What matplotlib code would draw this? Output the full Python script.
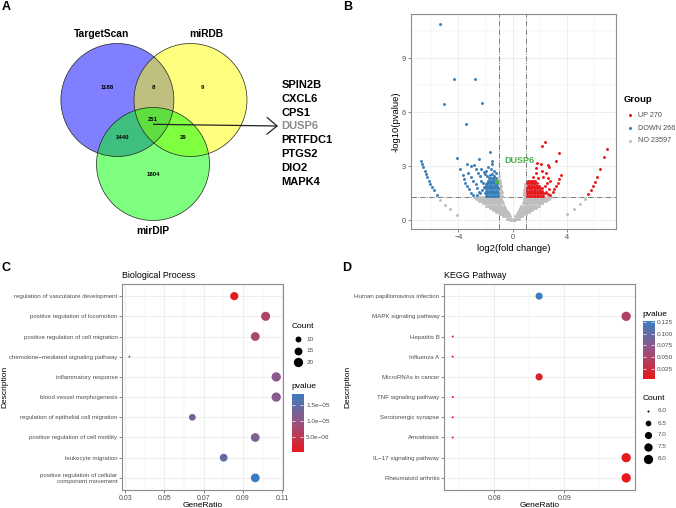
"""
Venn of predicted targets, volcano plot and GO / KEGG enrichment dot plots
"""
import numpy as np
import matplotlib
matplotlib.use("Agg")
import matplotlib.pyplot as plt
from matplotlib.patches import Circle
from matplotlib.colors import LinearSegmentedColormap, Normalize

plt.rcParams['font.family'] = ['Liberation Sans', 'DejaVu Sans']

W, H = 676, 508

# ---------------- data ----------------
# A: Venn
venn_sets = ["TargetScan", "miRDB", "mirDIP"]
venn_counts = {"TS": 1188, "TS_DB": 8, "DB": 9, "ALL": 251, "TS_DIP": 1440, "DB_DIP": 29, "DIP": 1804}
shared_genes = ["SPIN2B", "CXCL6", "CPS1", "DUSP6", "PRTFDC1", "PTGS2", "DIO2", "MAPK4"]
highlight_gene = "DUSP6"

# B: volcano (log2 fold change, -log10 p)
down_x = [-5.33, -4.32, -2.79, -5.06, -2.25, -3.46,
          -6.79, -6.69, -6.59, -6.49, -6.39, -6.30, -6.20, -6.10, -5.95, -5.80, -5.60,
          -4.10, -3.85, -3.68, -3.58, -3.48, -3.36, -3.24, -3.09, -2.96,
          -3.36, -3.04, -2.86, -2.49, -1.68, -1.53, -1.50,
          -3.28, -3.09, -2.91, -2.74, -2.62, -2.49,
          -2.70, -2.55, -2.40, -2.30, -2.15, -2.05, -1.95, -1.80, -1.62, -1.40, -1.25,
          -2.35, -2.20, -2.10, -2.25, -2.40, -2.60,
          -1.90, -1.65, -1.55, -1.35, -1.12, -2.00]
down_y = [10.92, 7.87, 7.87, 6.46, 6.53, 5.33,
          3.31, 3.13, 2.94, 2.76, 2.57, 2.39, 2.20, 2.03, 1.87, 1.68, 1.41,
          3.44, 2.87, 2.50, 2.28, 2.09, 1.91, 1.72, 1.53, 1.39,
          3.13, 3.02, 3.07, 3.39, 3.79, 3.31, 3.13,
          2.65, 2.42, 2.20, 2.02, 1.81, 1.59,
          2.85, 2.62, 2.45, 2.85, 2.70, 2.55, 2.75, 2.95, 2.85, 2.75, 2.62,
          2.20, 2.05, 1.85, 1.70, 1.50, 1.40,
          2.45, 2.50, 2.55, 2.45, 2.05, 2.00]
# dense block of down genes just past the cut-offs, one row per -log10 p level
down_block = [(1.36, [-2.00, -1.88, -1.76, -1.64, -1.52, -1.40, -1.28, -1.16, -1.06]),
              (1.50, [-2.05, -1.92, -1.80, -1.68, -1.56, -1.44, -1.32, -1.20, -1.09]),
              (1.64, [-1.98, -1.86, -1.74, -1.62, -1.50, -1.38, -1.26, -1.14]),
              (1.78, [-2.02, -1.90, -1.78, -1.66, -1.54, -1.42, -1.30, -1.18, -1.08]),
              (1.92, [-1.95, -1.82, -1.70, -1.58, -1.46, -1.34, -1.22, -1.12]),
              (2.06, [-1.88, -1.76, -1.64, -1.52, -1.40, -1.28, -1.17]),
              (2.20, [-1.80, -1.68, -1.56, -1.44, -1.32, -1.22]),
              (2.34, [-1.72, -1.60, -1.48, -1.36, -1.26])]

up_x = [2.37, 2.15,
        6.94, 6.77, 6.47, 6.22, 6.05, 5.90, 5.75, 5.58,
        3.43, 3.23, 3.56, 3.43, 3.31, 3.19, 3.06, 2.94, 2.77,
        1.83, 2.07, 2.57, 2.69, 1.70, 1.75, 2.44, 2.25, 1.90, 2.60, 2.75, 2.50,
        2.35, 2.20, 1.50, 2.65, 2.45, 2.60]
up_y = [4.37, 4.15,
        3.94, 3.53, 2.85, 2.40, 2.15, 1.92, 1.68, 1.44,
        3.76, 3.31, 2.52, 2.29, 2.09, 1.91, 1.72, 1.55, 1.41,
        3.17, 3.11, 3.07, 2.98, 2.89, 2.61, 2.64, 2.42, 2.33, 2.35, 2.20, 2.05,
        1.90, 2.75, 2.40, 1.75, 1.55, 1.45]
up_block = [(1.36, [1.06, 1.18, 1.30, 1.42, 1.54, 1.66, 1.78, 1.90, 2.02, 2.14, 2.26]),
            (1.50, [1.04, 1.16, 1.28, 1.40, 1.52, 1.64, 1.76, 1.88, 2.00, 2.12, 2.24, 2.36]),
            (1.64, [1.08, 1.20, 1.32, 1.44, 1.56, 1.68, 1.80, 1.92, 2.04, 2.16]),
            (1.78, [1.06, 1.18, 1.30, 1.42, 1.54, 1.66, 1.78, 1.90, 2.02, 2.14]),
            (1.92, [1.10, 1.22, 1.34, 1.46, 1.58, 1.70, 1.82, 1.94]),
            (2.06, [1.08, 1.20, 1.32, 1.44, 1.56, 1.68, 1.80]),
            (2.20, [1.16, 1.28, 1.40, 1.52, 1.64])]

no_x = [-5.33, -5.01, -4.64, -4.10, 5.31, 4.96, 4.54, 3.98,
        -1.05, -0.98, -0.95, -0.92, -0.90, -0.88, -0.85, -0.82, -0.80, -0.98, -1.02,
        -0.86, -0.94, -1.00, -0.84,
        0.82, 0.85, 0.88, 0.90, 0.95, 0.98, 0.80, 0.92, 0.86]
no_y = [1.13, 0.85, 0.61, 0.31, 1.18, 0.91, 0.63, 0.33,
        1.45, 1.60, 1.80, 2.00, 2.20, 1.40, 1.70, 1.55, 1.35, 2.45, 1.30,
        1.90, 2.10, 2.30, 1.50,
        1.40, 1.60, 1.80, 2.00, 1.50, 1.35, 1.70, 1.90, 1.45]
# the V of non-significant genes, one row per -log10 p level
no_block = [(0.02, [-0.20, -0.10, 0.00, 0.10, 0.20]),
            (0.10, [-0.45, -0.33, -0.21, -0.10, 0.10, 0.21, 0.33, 0.45]),
            (0.22, [-0.70, -0.57, -0.44, -0.31, -0.20, 0.20, 0.31, 0.44, 0.57, 0.70]),
            (0.34, [-0.95, -0.82, -0.69, -0.56, -0.43, -0.30, 0.30, 0.43, 0.56, 0.69, 0.82, 0.95]),
            (0.46, [-1.20, -1.06, -0.92, -0.78, -0.64, -0.50, -0.37,
                    0.37, 0.50, 0.64, 0.78, 0.92, 1.06, 1.20]),
            (0.58, [-1.45, -1.31, -1.17, -1.03, -0.89, -0.75, -0.61, -0.46,
                    0.46, 0.61, 0.75, 0.89, 1.03, 1.17, 1.31, 1.45]),
            (0.70, [-1.70, -1.56, -1.42, -1.28, -1.14, -1.00, -0.86, -0.72, -0.55,
                    0.55, 0.72, 0.86, 1.00, 1.14, 1.28, 1.42, 1.56, 1.70]),
            (0.82, [-1.95, -1.81, -1.67, -1.53, -1.39, -1.25, -1.11, -0.97, -0.83, -0.64,
                    0.64, 0.83, 0.97, 1.11, 1.25, 1.39, 1.53, 1.67, 1.81, 1.95]),
            (0.94, [-2.20, -2.06, -1.92, -1.78, -1.64, -1.50, -1.36, -1.22, -1.08, -0.94, -0.74,
                    0.74, 0.94, 1.08, 1.22, 1.36, 1.50, 1.64, 1.78, 1.92, 2.06, 2.20]),
            (1.06, [-2.45, -2.31, -2.17, -2.03, -1.89, -1.75, -1.61, -1.47, -1.33, -1.19, -1.05,
                    -0.92, -0.80, 0.80, 0.92, 1.05, 1.19, 1.33, 1.47, 1.61, 1.75, 1.89, 2.03,
                    2.17, 2.31, 2.45]),
            (1.18, [-2.68, -2.54, -2.40, -2.26, -2.12, -1.98, -1.84, -1.70, -1.56, -1.42, -1.28,
                    -1.14, -1.00, -0.87, 0.87, 1.00, 1.14, 1.28, 1.42, 1.56, 1.70, 1.84, 1.98,
                    2.12, 2.26, 2.40, 2.54, 2.68]),
            (1.27, [-2.86, -2.70, -2.52, -2.34, -2.16, -1.98, -1.80, -1.62, -1.44, -1.26, -1.10,
                    -0.94, 0.94, 1.10, 1.26, 1.44, 1.62, 1.80, 1.98, 2.16, 2.34, 2.52, 2.70,
                    2.86])]

dusp6_xy = (-1.16, 2.12)
group_labels = ["UP 270", "DOWN 266", "NO 23597"]

# C: GO biological process
bp_terms = ["regulation of vasculature development",
            "positive regulation of locomotion",
            "positive regulation of cell migration",
            "chemokine\u2212mediated signaling pathway",
            "inflammatory response",
            "blood vessel morphogenesis",
            "regulation of epithelial cell migration",
            "positive regulation of cell motility",
            "leukocyte migration",
            "positive regulation of cellular\ncomponent movement"]
bp_ratio = [0.0856, 0.1016, 0.0963, 0.0321, 0.1070, 0.1070, 0.0642, 0.0963, 0.0802, 0.0963]
bp_count = [16, 19, 18, 6, 20, 20, 12, 18, 15, 18]
bp_pvalue = [3.0e-7, 7.0e-6, 7.5e-6, 9.0e-6, 1.05e-5, 1.1e-5, 1.25e-5, 1.2e-5, 1.45e-5, 1.85e-5]

# D: KEGG pathway
kegg_terms = ["Human papillomavirus infection", "MAPK signaling pathway", "Hepatitis B",
              "Influenza A", "MicroRNAs in cancer", "TNF signaling pathway",
              "Serotonergic synapse", "Amoebiasis", "IL\u221217 signaling pathway",
              "Rheumatoid arthritis"]
kegg_ratio = [0.0864, 0.0988, 0.0741, 0.0741, 0.0864, 0.0741, 0.0741, 0.0741, 0.0988, 0.0988]
kegg_count = [7, 8, 6, 6, 7, 6, 6, 6, 8, 8]
kegg_pvalue = [0.1265, 0.045, 0.005, 0.006, 0.012, 0.004, 0.005, 0.006, 0.004, 0.003]

# ---------------- helpers ----------------
pv_cmap = LinearSegmentedColormap.from_list("pv", ["#E8191C", "#985383", "#3A7EC0"])
TXT = "#4D4D4D"
GRID = "#EBEBEB"


def px_axes(fig, left, top, right, bottom):
    return fig.add_axes([left / W, 1 - bottom / H, (right - left) / W, (bottom - top) / H])


def unpack_rows(rows):
    xs, ys = [], []
    for y, row in rows:
        xs += row
        ys += [y] * len(row)
    return xs, ys


def dot_area(count, cmin, cmax, dmin=2.0, dmax=9.3):
    d = dmin + (dmax - dmin) * np.sqrt((np.asarray(count, float) - cmin) / (cmax - cmin))
    return (d * 0.72) ** 2


def style_bw(ax):
    for s in ax.spines.values():
        s.set_color("#8C8C8C")
        s.set_linewidth(0.8)
    ax.grid(True, which="major", color=GRID, lw=0.6)
    ax.grid(True, which="minor", color=GRID, lw=0.35)
    ax.set_axisbelow(True)
    ax.tick_params(which="major", length=2, width=0.5, color="#555555", labelcolor=TXT, pad=1.5)
    ax.tick_params(which="minor", length=0)


def colorbar_axes(fig, left, top, right, bottom, vmin, vmax, ticks, labels):
    cax = px_axes(fig, left, top, right, bottom)
    cax.imshow(np.linspace(vmin, vmax, 256)[:, None], aspect="auto", cmap=pv_cmap,
               origin="lower", extent=[0, 1, vmin, vmax])
    for s in cax.spines.values():
        s.set_visible(False)
    cax.set_xticks([])
    cax.set_yticks(ticks)
    cax.set_yticklabels(labels)
    cax.tick_params(axis="y", left=True, right=True, labelleft=False, labelright=True,
                    direction="in", color="white", length=2, width=0.5,
                    labelcolor=TXT, labelsize=4.6, pad=2)
    return cax


fig = plt.figure(figsize=(W / 100, H / 100), dpi=100)

# ---------------- B: volcano ----------------
axb = px_axes(fig, 411, 14, 615.7, 229)
bx, by = unpack_rows(no_block)
axb.scatter(no_x + bx, no_y + by, s=4.5, color="#BEBEBE", lw=0, zorder=2)
bx, by = unpack_rows(down_block)
axb.scatter(down_x + bx, down_y + by, s=4.5, color="#377EB8", lw=0, zorder=3)
bx, by = unpack_rows(up_block)
axb.scatter(up_x + bx, up_y + by, s=4.5, color="#E41A1C", lw=0, zorder=3)
axb.scatter([dusp6_xy[0]], [dusp6_xy[1]], s=9, marker="s", color="#4DAF4A", lw=0, zorder=4)
axb.text(0.47, 3.3, highlight_gene, color="#4DAF4A", fontsize=6.5, fontweight="bold",
         ha="center", va="center", zorder=5)
for xv in (-1, 1):
    axb.axvline(xv, color="#666666", lw=0.6, ls="-.", zorder=1)
axb.axhline(-np.log10(0.05), color="#666666", lw=0.6, ls="-.", zorder=1)
axb.set_xlim(-7.5, 7.6)
axb.set_ylim(-0.48, 11.46)
axb.set_xticks([-4, 0, 4])
axb.set_xticks([-6, -2, 2, 6], minor=True)
axb.set_yticks([0, 3, 6, 9])
axb.set_yticks([1.5, 4.5, 7.5, 10.5], minor=True)
style_bw(axb)
axb.tick_params(labelsize=5.3)
axb.set_xlabel("log2(fold change)", fontsize=6.8, labelpad=2)
axb.set_ylabel("-log10(pvalue)", fontsize=6.8, labelpad=1)

# ---------------- C: GO BP ----------------
axc = px_axes(fig, 122.3, 284, 282.7, 490)
yc = np.arange(len(bp_terms))[::-1]
norm_c = Normalize(vmin=min(bp_pvalue), vmax=max(bp_pvalue))
axc.scatter(bp_ratio, yc, s=dot_area(bp_count, min(bp_count), max(bp_count)),
            c=bp_pvalue, cmap=pv_cmap, norm=norm_c, lw=0, zorder=3)
axc.set_xlim(0.0285, 0.1103)
axc.set_ylim(-0.6, 9.6)
axc.set_xticks([0.03, 0.05, 0.07, 0.09, 0.11])
axc.set_xticklabels(["0.03", "0.05", "0.07", "0.09", "0.11"])
axc.set_xticks([0.04, 0.06, 0.08, 0.10], minor=True)
axc.set_yticks(yc)
axc.set_yticklabels(bp_terms, multialignment="right")
style_bw(axc)
axc.tick_params(axis="y", labelsize=4.4)
axc.tick_params(axis="x", labelsize=5)
axc.set_title("Biological Process", loc="left", fontsize=6.4, pad=4)
axc.set_xlabel("GeneRatio", fontsize=6.0, labelpad=0)
axc.set_ylabel("Description", fontsize=6.0, labelpad=0.5)

colorbar_axes(fig, 292, 394, 303.3, 452.3, min(bp_pvalue), max(bp_pvalue),
              [5e-6, 1e-5, 1.5e-5], ["5.0e\u221206", "1.0e\u221205", "1.5e\u221205"])

# ---------------- D: KEGG ----------------
axd = px_axes(fig, 444.3, 284, 635.3, 490)
yd = np.arange(len(kegg_terms))[::-1]
norm_d = Normalize(vmin=min(kegg_pvalue), vmax=max(kegg_pvalue))
axd.scatter(kegg_ratio, yd, s=dot_area(kegg_count, min(kegg_count), max(kegg_count)),
            c=kegg_pvalue, cmap=pv_cmap, norm=norm_d, lw=0, zorder=3)
axd.set_xlim(0.0729, 0.1001)
axd.set_ylim(-0.6, 9.6)
axd.set_xticks([0.08, 0.09])
axd.set_xticklabels(["0.08", "0.09"])
axd.set_xticks([0.075, 0.085, 0.095], minor=True)
axd.set_yticks(yd)
axd.set_yticklabels(kegg_terms)
style_bw(axd)
axd.tick_params(axis="y", labelsize=4.4)
axd.tick_params(axis="x", labelsize=5)
axd.set_title("KEGG Pathway", loc="left", fontsize=6.4, pad=4)
axd.set_xlabel("GeneRatio", fontsize=6.0, labelpad=0)
axd.set_ylabel("Description", fontsize=6.0, labelpad=2)

colorbar_axes(fig, 642.7, 321.3, 654.3, 379, min(kegg_pvalue), max(kegg_pvalue),
              [0.025, 0.05, 0.075, 0.1, 0.125], ["0.025", "0.050", "0.075", "0.100", "0.125"])

# ---------------- overlay: Venn, legends, panel letters ----------------
ov = fig.add_axes([0, 0, 1, 1])
ov.set_xlim(0, W)
ov.set_ylim(H, 0)
ov.axis("off")
ov.patch.set_alpha(0)

circles = [((117.4, 100), "#0000FF"), ((190.5, 100), "#FFFF00"), ((153.0, 164), "#00FF00")]
for (cx, cy), col in circles:
    ov.add_patch(Circle((cx, cy), 56.5, facecolor=col, alpha=0.5, lw=0))
for (cx, cy), col in circles:
    ov.add_patch(Circle((cx, cy), 56.5, facecolor="none", edgecolor="#222222", lw=0.5))

for name, (x, y) in zip(venn_sets, [(101.7, 34), (206.7, 34), (153.3, 231)]):
    ov.text(x, y, name, fontsize=7.4, fontweight="bold", ha="center", va="center")
num_pos = {"TS": (107.3, 87.7), "TS_DB": (153.7, 87.7), "DB": (202.3, 87.7),
           "ALL": (153.3, 119.3), "TS_DIP": (122.7, 137.3), "DB_DIP": (183.7, 137.3),
           "DIP": (153.3, 175)}
for key, val in venn_counts.items():
    x, y = num_pos[key]
    ov.text(x, y, str(val), fontsize=4.3, fontweight="bold", ha="center", va="center")

ov.annotate("", xy=(278, 126), xytext=(153.5, 124.3),
            arrowprops=dict(arrowstyle="->,head_length=0.6,head_width=0.5",
                            lw=0.9, color="#222222", mutation_scale=12,
                            shrinkA=0, shrinkB=0))
for i, g in enumerate(shared_genes):
    ov.text(281.7, 85 + i * 13.8, g, fontsize=8, fontweight="bold",
            color="#8C8C8C" if g == highlight_gene else "black", ha="left", va="center")

# volcano legend
ov.text(623.3, 100, "Group", fontsize=6.8, fontweight="bold", ha="left", va="center")
for (y, lab, col) in zip([115.3, 128.3, 141], group_labels, ["#E41A1C", "#377EB8", "#BEBEBE"]):
    ov.scatter([630], [y], s=5, color=col, lw=0)
    ov.text(637.7, y, lab, fontsize=5.2, color=TXT, ha="left", va="center")

# C legends
ov.text(291.7, 326, "Count", fontsize=6, ha="left", va="center")
for y, c in zip([339.3, 350.7, 362.3], [10, 15, 20]):
    ov.scatter([297.7], [y], s=dot_area(c, min(bp_count), max(bp_count)), color="black", lw=0)
    ov.text(306.7, y, str(c), fontsize=4.6, color=TXT, ha="left", va="center")
ov.text(291.7, 387, "pvalue", fontsize=6, ha="left", va="center")

# D legends
ov.text(642.7, 314.3, "pvalue", fontsize=6, ha="left", va="center")
ov.text(642.7, 398.7, "Count", fontsize=6, ha="left", va="center")
for y, c in zip([411, 423.3, 435, 446.7, 458.7], [6.0, 6.5, 7.0, 7.5, 8.0]):
    ov.scatter([648.3], [y], s=dot_area(c, min(kegg_count), max(kegg_count)), color="black", lw=0)
    ov.text(657.7, y, f"{c:.1f}", fontsize=4.6, color=TXT, ha="left", va="center")

for lab, (x, y) in zip("ABCD", [(2, 7), (343, 7), (2, 268), (342, 268)]):
    ov.text(x, y, lab, fontsize=9, fontweight="bold", ha="left", va="center")

fig.savefig("out.png", dpi=100)
